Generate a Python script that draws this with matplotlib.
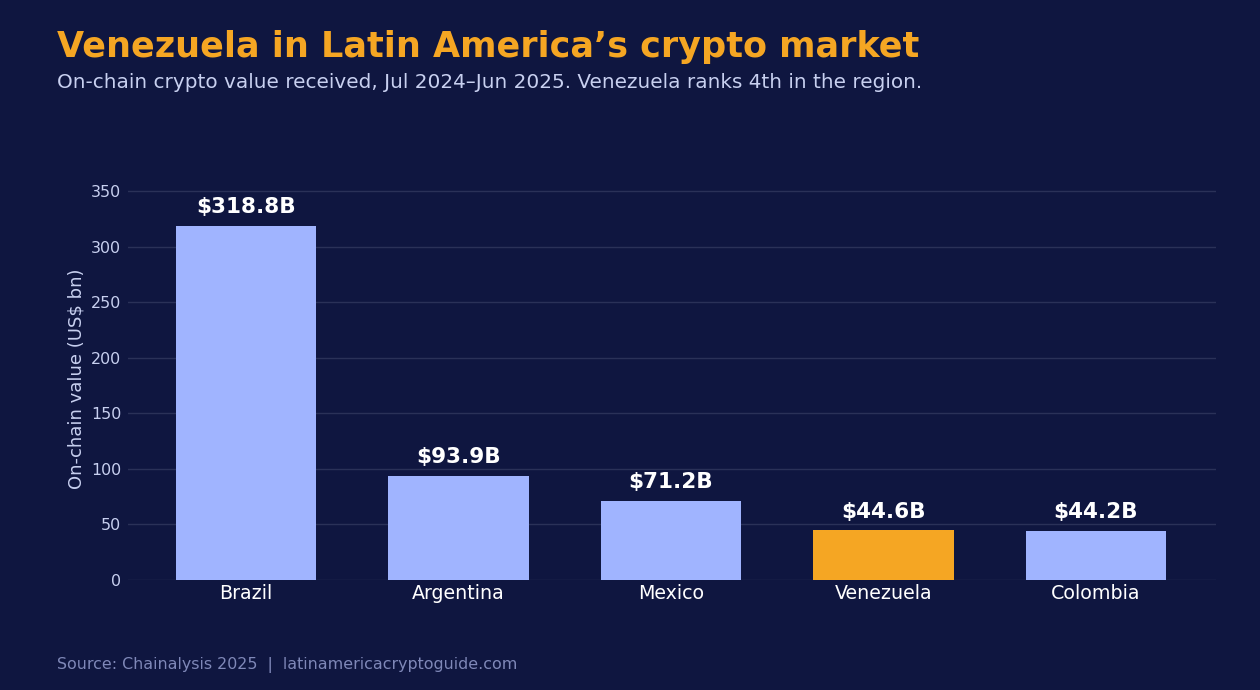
import matplotlib
matplotlib.use('Agg')
import matplotlib.pyplot as plt

plt.rcParams['font.family'] = ['DejaVu Sans']

countries = ['Brazil', 'Argentina', 'Mexico', 'Venezuela', 'Colombia']
values = [318.8, 93.9, 71.2, 44.6, 44.2]
highlight = 'Venezuela'

bg = '#0f1640'
bar_col = '#a0b4ff'
orange = '#f5a623'

fig = plt.figure(figsize=(12.6, 6.9), dpi=100, facecolor=bg)
ax = fig.add_axes([128/1260, 1 - 580/690, (1216-128)/1260, (580-178)/690])
ax.set_facecolor(bg)

colors = [orange if c == highlight else bar_col for c in countries]
x = range(len(countries))
ax.bar(x, values, width=0.66, color=colors, zorder=3)

for i, v in zip(x, values):
    ax.text(i, v + 8, f'${v:.1f}B', ha='center', va='bottom', color='white',
            fontsize=15.5, fontweight='bold')

ax.set_xlim(-0.555, 4.565)
ax.set_ylim(0, 362)
ax.set_yticks(range(0, 351, 50))
ax.set_xticks(list(x))
ax.set_xticklabels(countries, fontsize=13.7, color='white')
ax.tick_params(axis='y', colors='#c8d0f0', labelsize=11.4, length=0, pad=5)
ax.tick_params(axis='x', length=0, pad=3)
ax.grid(axis='y', color='#2a3158', linewidth=1, zorder=0)
for s in ax.spines.values():
    s.set_visible(False)
ax.set_ylabel('On-chain value (US$ bn)', color='#c8d0f0', fontsize=13, labelpad=4)

fig.text(57/1260, 1 - 47/690, 'Venezuela in Latin America\u2019s crypto market',
         color=orange, fontsize=25.2, fontweight='bold', va='center')
fig.text(57/1260, 1 - 82/690,
         'On-chain crypto value received, Jul 2024\u2013Jun 2025. Venezuela ranks 4th in the region.',
         color='#c8d0f0', fontsize=14.4, va='center')
fig.text(57/1260, 1 - 665/690, 'Source: Chainalysis 2025  |  latinamericacryptoguide.com',
         color='#7f88b8', fontsize=11.45, va='center')

fig.savefig('out.png', dpi=100, facecolor=bg)
